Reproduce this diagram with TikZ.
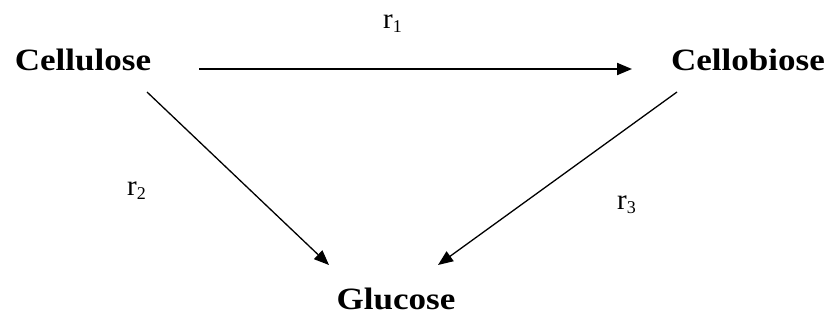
\documentclass[tikz,border=0pt]{standalone}
\usepackage{fontspec}
\setmainfont{Liberation Serif}
\newfontfamily\wideserif[FakeStretch=1.13]{Liberation Serif}
\usetikzlibrary{arrows.meta}
\newcommand{\ratesub}[1]{{\fontsize{18}{20}\selectfont\raisebox{-4pt}{#1}}}
\begin{document}
\begin{tikzpicture}[x=1pt,y=-1pt,
  species/.style={font=\wideserif\fontsize{31}{36}\selectfont\bfseries, inner sep=0pt, anchor=base},
  rate/.style={font=\fontsize{29}{32}\selectfont, inner sep=0pt, anchor=base west},
  rxn/.style={-{Triangle[length=15pt,width=12pt]}, line width=1.3pt}]
\useasboundingbox (0,0) rectangle (830,322);
\node[species] (cel) at (83,70) {Cellulose};
\node[species] (cb) at (748,70) {Cellobiose};
\node[species] (glu) at (396,309) {Glucose};
\node[rate] (r1) at (383,28) {r\ratesub{1}};
\node[rate] (r2) at (127,195) {r\ratesub{2}};
\node[rate] (r3) at (617,209) {r\ratesub{3}};
\coordinate (a1) at (199,69);
\coordinate (b1) at (632,69);
\coordinate (a2) at (147,92);
\coordinate (b2) at (329,265);
\coordinate (a3) at (677,92);
\coordinate (b3) at (438,265);
\draw[rxn, line width=2pt] (a1) -- (b1);
\draw[rxn] (a2) -- (b2);
\draw[rxn] (a3) -- (b3);
\end{tikzpicture}
\end{document}
